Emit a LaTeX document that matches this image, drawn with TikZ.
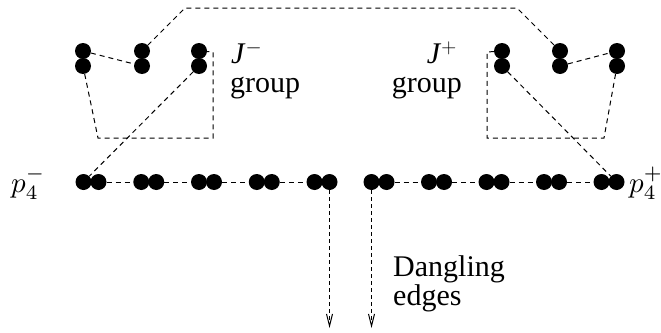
\documentclass[tikz,border=0pt]{standalone}
\usepackage{graphicx}
\usepackage{fontspec}
\setmainfont{Liberation Serif}
\usetikzlibrary{arrows.meta}
\begin{document}
\begin{tikzpicture}[x=1pt,y=-1pt,
  dot/.style={circle,fill=black,inner sep=0pt,minimum size=16pt},
  dline/.style={line width=1pt,dash pattern=on 5pt off 4pt},
  dangle/.style={line width=1pt,dash pattern=on 4pt off 3pt,-{Straight Barb[length=12pt,width=6pt,line width=1pt]}},
  lbl/.style={inner sep=0pt,font=\fontsize{30}{29}\selectfont}]
\useasboundingbox (0,0) rectangle (661,332);
% top groups
\foreach \n/\x in {L1/83,L2/142,L3/199,R1/502,R2/560,R3/617}{
  \node[dot] (\n u) at (\x,51) {};
  \node[dot] (\n d) at (\x,66) {};
}
% bottom pairs
\foreach \i/\x in {1/91,2/148.75,3/206.5,4/264.25,5/322,6/379,7/436.5,8/494,9/551.5,10/609}{
  \node[dot] (P\i a) at (\x-7.5,182) {};
  \node[dot] (P\i b) at (\x+7.5,182) {};
}
% coordinates
\coordinate (t1) at (185,8);
\coordinate (t2) at (517,8);
\coordinate (lb1) at (98,138);
\coordinate (lb2) at (213,138);
\coordinate (lb3) at (213,52);
\coordinate (rb1) at (604,138);
\coordinate (rb2) at (487,138);
\coordinate (rb3) at (487,52);
\coordinate (e1) at (P5b |- 0,328);
\coordinate (e2) at (P6a |- 0,328);
% connectors
\draw[dline] (L2u) -- (t1) -- (t2) -- (R2u);
\draw[dline] (L1u) -- (L2d);
\draw[dline] (R2d) -- (R3u);
\draw[dline] (L1d) -- (lb1) -- (lb2) -- (lb3) -- (L3u);
\draw[dline] (R3d) -- (rb1) -- (rb2) -- (rb3) -- (R1u);
\draw[dline] (L3d) -- (P1a);
\draw[dline] (R1d) -- (P10b);
\foreach \i/\j in {1/2,2/3,3/4,4/5,6/7,7/8,8/9,9/10}{
  \draw[dline] (P\i b) -- (P\j a);
}
\draw[dangle] (P5b) -- (e1);
\draw[dangle] (P6a) -- (e2);
% labels
\node[lbl,anchor=base west] (jm) at (231,63) {\textit{J}$^{-}$};
\node[lbl,anchor=base west] (gm) at (230,92) {group};
\node[lbl,anchor=base east] (jp) at (457,63) {\textit{J}$^{+}$};
\node[lbl,anchor=base east] (gp) at (462,92) {group};
\node[inner sep=0pt,anchor=base west] (pm) at (11,192) {\scalebox{2.9}{$p_4^-$}};
\node[inner sep=0pt,anchor=base west] (pp) at (629,192) {\scalebox{2.9}{$p_4^+$}};
\node[lbl,anchor=base west] (dg) at (393,276) {Dangling};
\node[lbl,anchor=base west] (ed) at (393,305) {edges};
\end{tikzpicture}
\end{document}
